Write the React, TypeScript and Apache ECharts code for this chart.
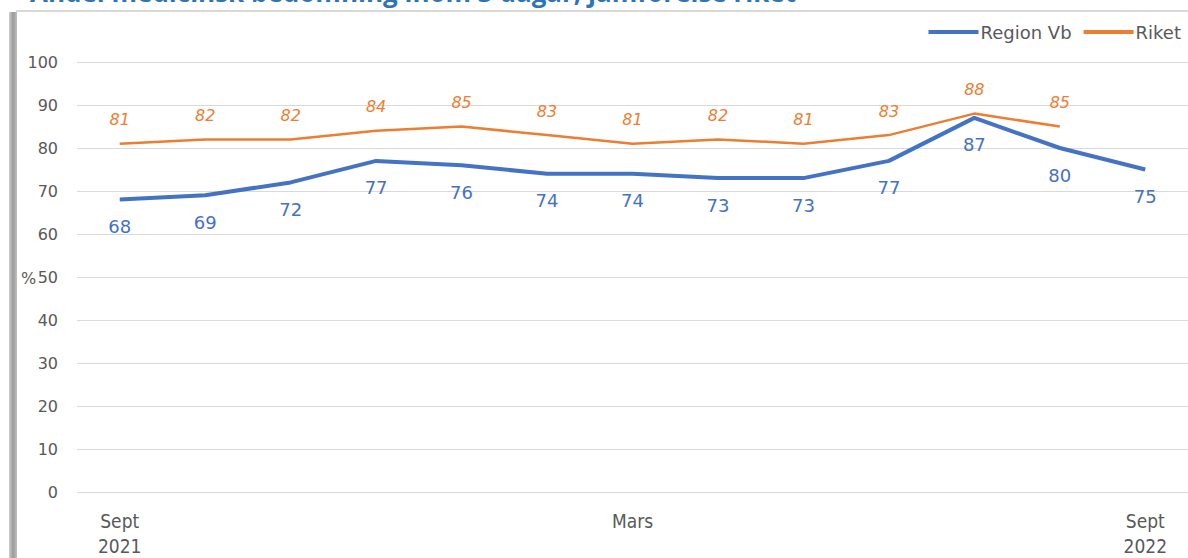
import React, { useEffect, useRef } from "react";
import * as echarts from "echarts";

const categories = ["Sept\n2021", "", "", "", "", "", "Mars", "", "", "", "", "", "Sept\n2022"];
const regionVb = [68, 69, 72, 77, 76, 74, 74, 73, 73, 77, 87, 80, 75];
const riket: (number | null)[] = [81, 82, 82, 84, 85, 83, 81, 82, 81, 83, 88, 85, null];
const seriesNames = ["Region Vb", "Riket"];
const titleText = "Andel medicinsk bedömning inom 3 dagar, jämförelse riket";

export default function App() {
  const ref = useRef<HTMLDivElement>(null);
  useEffect(() => {
    if (!ref.current) return;
    const chart = echarts.init(ref.current, null, { renderer: "svg" });
    chart.setOption({
      animation: false,
      backgroundColor: "#ffffff",
      graphic: [
        {
          type: "text",
          left: 30,
          top: -21,
          style: {
            text: titleText,
            fill: "#2E75B6",
            font: "bold 26px 'Open Sans', sans-serif",
          },
        },
        {
          type: "rect",
          shape: { x: 16, y: 10, width: 1180, height: 2 },
          style: { fill: "#d9d9d9" },
        },
        {
          type: "rect",
          shape: { x: 9, y: 12, width: 8, height: 560 },
          style: {
            fill: new echarts.graphic.LinearGradient(0, 0, 1, 0, [
              { offset: 0, color: "#d0d0d0" },
              { offset: 0.5, color: "#9a9a9a" },
              { offset: 1, color: "#c0c0c0" },
            ]),
          },
        },
        {
          type: "text",
          x: 21,
          y: 270,
          style: {
            text: "%",
            fill: "#595959",
            font: "16px 'DejaVu Sans', sans-serif",
          },
        },
      ],
      legend: {
        top: 18,
        right: 2,
        itemWidth: 50,
        itemHeight: 4,
        itemGap: 12,
        textStyle: { color: "#595959", fontSize: 18, fontFamily: "'DejaVu Sans', sans-serif", padding: [0, 0, 0, -3] },
        data: [
          { name: seriesNames[0], icon: "rect", itemStyle: { color: "#4472C4" } },
          { name: seriesNames[1], icon: "rect", itemStyle: { color: "#ED7D31" } },
        ],
      },
      grid: { left: 77, right: -2, top: 62, bottom: 66, containLabel: false },
      xAxis: {
        type: "category",
        data: categories,
        boundaryGap: true,
        axisLine: { show: false },
        axisTick: { show: false },
        axisLabel: {
          interval: 0,
          color: "#595959",
          fontSize: 19,
          lineHeight: 25,
          margin: 16,
          fontFamily: "'Liberation Sans Narrow', 'DejaVu Sans Condensed', sans-serif",
        },
      },
      yAxis: {
        type: "value",
        min: 0,
        max: 100,
        interval: 10,
        axisLine: { show: false },
        axisTick: { show: false },
        axisLabel: {
          color: "#595959",
          fontSize: 16,
          margin: 19,
          fontFamily: "'DejaVu Sans', sans-serif",
        },
        splitLine: { lineStyle: { color: "#d9d9d9", width: 1 } },
      },
      series: [
        {
          name: seriesNames[0],
          type: "line",
          data: regionVb,
          symbol: "circle",
          symbolSize: 0,
          showSymbol: true,
          lineStyle: { color: "#4472C4", width: 4 },
          itemStyle: { color: "#4472C4" },
          label: {
            show: true,
            position: "bottom",
            distance: 18,
            color: "#4472C4",
            fontSize: 18,
            fontFamily: "'DejaVu Sans', sans-serif",
          },
          z: 3,
        },
        {
          name: seriesNames[1],
          type: "line",
          data: riket,
          symbol: "circle",
          symbolSize: 0,
          showSymbol: true,
          lineStyle: { color: "#ED7D31", width: 2.5 },
          itemStyle: { color: "#ED7D31" },
          label: {
            show: true,
            position: "top",
            distance: 16,
            color: "#ED7D31",
            fontSize: 16,
            fontStyle: "italic",
            fontFamily: "'DejaVu Sans', sans-serif",
          },
          z: 2,
        },
      ],
    });
    return () => chart.dispose();
  }, []);
  return (
    <div
      ref={ref}
      style={{ position: "fixed", left: 0, top: 0, width: 1188, height: 558 }}
    />
  );
}
